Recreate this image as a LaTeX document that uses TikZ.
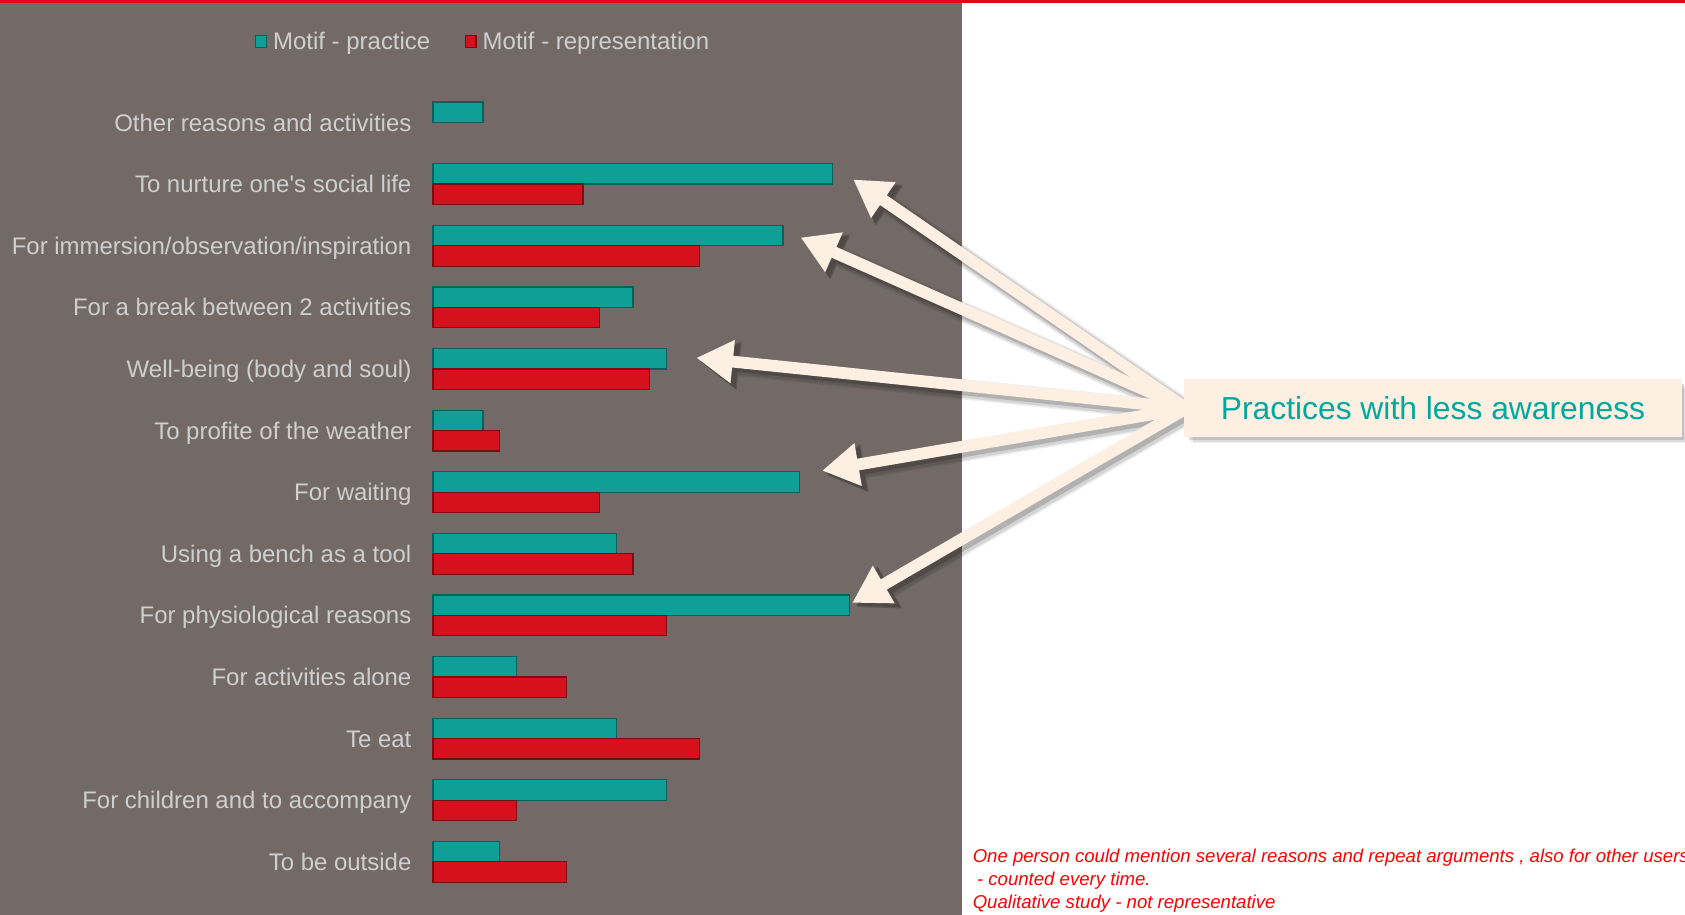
\documentclass[tikz,border=0pt]{standalone}
\usepackage{fontspec}
\setmainfont{Liberation Sans}
\newfontfamily\straightfont{Liberation Sans}[Ligatures=TeXOff]
\usetikzlibrary{arrows.meta,calc}
\definecolor{panel}{HTML}{736A67}
\definecolor{topred}{HTML}{E30613}
\definecolor{tealbar}{HTML}{0E9F97}
\definecolor{tealedge}{HTML}{09605B}
\definecolor{redbar}{HTML}{D6111E}
\definecolor{rededge}{HTML}{7D0B12}
\definecolor{labgray}{HTML}{CFCFCF}
\definecolor{cream}{HTML}{FDEFE2}
\definecolor{boxteal}{HTML}{00A99D}
\definecolor{notered}{HTML}{FF0000}
\tikzset{
  labeltext/.style={anchor=base east, inner sep=0pt, text=labgray, font=\fontsize{22.3}{26}\selectfont},
  legendtext/.style={anchor=base west, inner sep=0pt, text=labgray, font=\fontsize{22.3}{26}\selectfont},
  tealstyle/.style={fill=tealbar, draw=tealedge, line width=1.2pt},
  redstyle/.style={fill=redbar, draw=rededge, line width=1.2pt},
  arrowline/.style={draw=cream, line width=11pt, -{Triangle[length=34pt,width=38pt]}},
  arrowshade/.style={draw=black, -{Triangle[length=36pt,width=42pt]}},
  notetext/.style={anchor=base west, inner sep=0pt, text=notered, font=\fontsize{17.3}{21}\selectfont\itshape},
}
\begin{document}
\begin{tikzpicture}[x=1pt,y=-1pt]
\useasboundingbox (0,0) rectangle (1568,851);
\fill[white] (0,0) rectangle (1568,851);
\fill[panel] (0,3) rectangle (895,851);
\fill[topred] (0,0) rectangle (1568,3);

% legend
\draw[tealstyle] (238,33) rectangle (248,44);
\node[legendtext] (legp) at (254,46) {Motif - practice};
\draw[redstyle] (433,33) rectangle (443,44);
\node[legendtext] (legr) at (449,46) {Motif - representation};

% bars and labels
\foreach \lab/\p/\r [count=\i] in {
  {Other reasons and activities}/3/0,
  {To nurture one{\straightfont'}s social life}/24/9,
  {For immersion/observation/inspiration}/21/16,
  {For a break between 2 activities}/12/10,
  {Well-being (body and soul)}/14/13,
  {To profite of the weather}/3/4,
  {For waiting}/22/10,
  {Using a bench as a tool}/11/12,
  {For physiological reasons}/25/14,
  {For activities alone}/5/8,
  {Te eat}/11/16,
  {For children and to accompany}/14/5,
  {To be outside}/4/8}{
  \pgfmathsetmacro{\yc}{114+57.333*(\i-1)}
  \pgfmathsetmacro{\xp}{403+15.5*\p}
  \pgfmathsetmacro{\xr}{403+15.5*\r}
  \draw[tealstyle] (403,\yc-19) rectangle (\xp,\yc);
  \ifnum\r>0 \draw[redstyle] (403,\yc) rectangle (\xr,\yc+19); \fi
  \node[labeltext] (lab\i) at (383,\yc+8) {\lab};
}

% arrow targets
\coordinate (t1) at (794,167);
\coordinate (t2) at (745,221);
\coordinate (t3) at (648,333);
\coordinate (t4) at (765,438);
\coordinate (t5) at (793,561);
\coordinate (org) at (1104,380);

% soft shadows of the arrows
\foreach \w/\op/\dx in {19/0.07/4, 16/0.10/4, 13/0.16/3}{
  \begin{scope}[transparency group, opacity=\op]
    \foreach \t in {t1,t2,t3,t4,t5}{
      \draw[arrowshade, line width=\w pt] ($(org)+(\dx,\dx)$) -- ($(\t)+(\dx,\dx)$);
    }
  \end{scope}
}
\foreach \t in {t1,t2,t3,t4,t5}{
  \draw[arrowline] (org) -- (\t);
}

% box shadow (soft) and box
\foreach \s/\op in {8/0.06, 6/0.08, 4/0.12}{
  \fill[black, opacity=\op] (1102+\s,353+\s) rectangle (1565+\s*0.6,407+\s*0.7);
}
\node[fill=cream, minimum width=463pt, minimum height=54pt, inner sep=0pt,
      text=boxteal, font=\fontsize{29.6}{34}\selectfont] (box) at (1333.5,380) {Practices with less awareness};

% footnote
\node[notetext] (n1) at (905,803) {One person could mention several reasons and repeat arguments , also for other users};
\node[notetext] (n2) at (909,824) {- counted every time.};
\node[notetext] (n3) at (905,845) {Qualitative study - not representative};
\end{tikzpicture}
\end{document}
